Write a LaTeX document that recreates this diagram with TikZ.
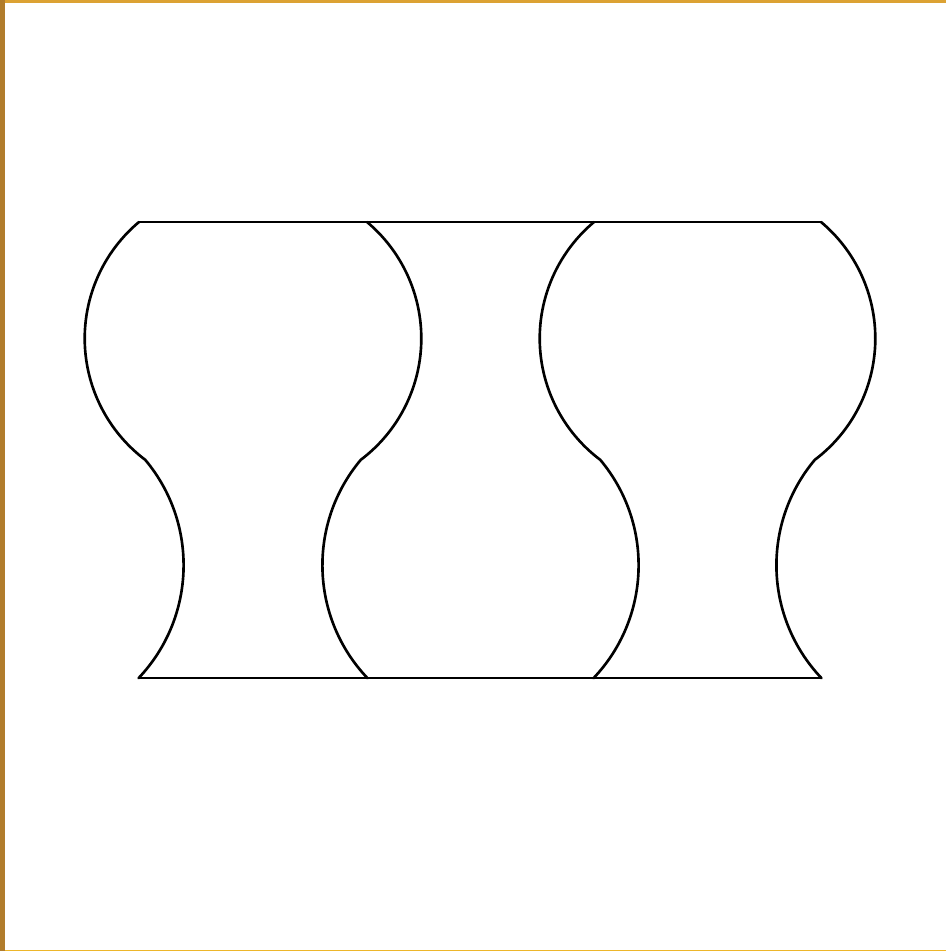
\documentclass[tikz,border=0pt]{standalone}
\usepackage{tikz}
\definecolor{goldtop}{HTML}{DCA233}
\definecolor{goldleft}{HTML}{B17C2C}
\definecolor{goldbot}{HTML}{EDB62A}

\begin{document}
\begin{tikzpicture}[
  tileline/.style={line width=0.75pt, line join=round, line cap=round},
  bulgeleft/.style={tileline},
  bulgeright/.style={tileline}
]
\useasboundingbox (0,0) rectangle (9.46,9.51);
\fill[goldtop] (0,9.48) rectangle (9.46,9.51);
\fill[goldleft] (0,0) rectangle (0.05,9.51);
\fill[goldbot] (0.05,0) rectangle (9.46,0.012);

\coordinate (topleft) at (1.39,7.29);
\coordinate (topright) at (8.21,7.29);
\coordinate (botleft) at (1.39,2.73);
\coordinate (botright) at (8.21,2.73);

\draw[tileline] (topleft) -- (topright);
\draw[tileline] (botleft) -- (botright);

% edges bulging out to the left at the top
\foreach \x in {1.39,5.94}
  \draw[bulgeleft] (\x,7.29) arc[start angle=130, end angle=233, radius=1.52]
    arc[start angle=40, end angle=-43.5, radius=1.64];
% mirrored edges
\foreach \x in {3.67,8.21}
  \draw[bulgeright] (\x,7.29) arc[start angle=50, end angle=-53, radius=1.52]
    arc[start angle=140, end angle=223.5, radius=1.64];
\end{tikzpicture}
\end{document}
